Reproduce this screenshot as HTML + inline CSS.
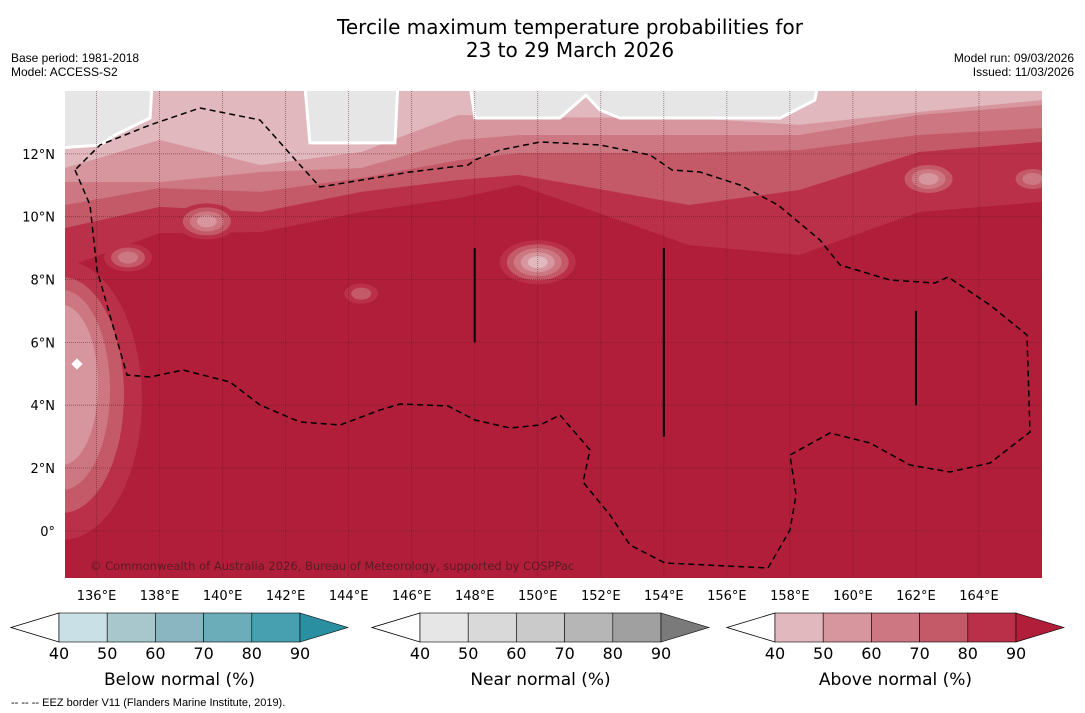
<!DOCTYPE html>
<html><head><meta charset="utf-8"><style>
body{margin:0;background:#fff;width:1085px;height:713px;overflow:hidden;font-family:"Liberation Sans","DejaVu Sans",sans-serif}
svg{position:absolute;left:0;top:0}
</style></head><body>
<svg width="1085" height="713" viewBox="0 0 1085 713">
<text x="570" y="34" font-size="20" text-anchor="middle" fill="#000" font-family="DejaVu Sans, sans-serif">Tercile maximum temperature probabilities for</text>
<text x="570" y="57" font-size="20" text-anchor="middle" fill="#000" font-family="DejaVu Sans, sans-serif">23 to 29 March 2026</text>
<text x="11" y="62" font-size="12">Base period: 1981-2018</text>
<text x="11" y="76" font-size="12">Model: ACCESS-S2</text>
<text x="1074" y="62" font-size="12" text-anchor="end">Model run: 09/03/2026</text>
<text x="1074" y="76" font-size="12" text-anchor="end">Issued: 11/03/2026</text>
<defs><clipPath id="mc"><rect x="65" y="91" width="977" height="487"/></clipPath></defs>
<g id="map" clip-path="url(#mc)"></g>
<g id="axes"></g>
<g id="bars"></g>
<text x="11" y="706" font-size="11">--  --  -- EEZ border V11 (Flanders Marine Institute, 2019).</text>
</svg>
<script>
const NS="http://www.w3.org/2000/svg";
const lonMin=135, lonMax=166, latMin=-1.5, latMax=14;
const X=lon=>65+(lon-lonMin)/(lonMax-lonMin)*977;
const Y=lat=>91+(latMax-lat)/(latMax-latMin)*487;
const lonTicks=[136,138,140,142,144,146,148,150,152,154,156,158,160,162,164];
const latTicks=[0,2,4,6,8,10,12];
const levelColors=["#e0b8bd","#d7959d","#cc7781","#c45a68","#ba3048","#b01e3a"];
const bandLon=[135,138,141.2,144.4,147.5,149.4,154.8,158.3,162.1,166];
const band40=[11.55,12.44,11.64,12.06,13.24,13.17,13.14,12.92,13.33,13.71];
const band50=[11.10,11.10,11.42,11.55,12.44,12.60,12.60,12.60,13.24,13.55];
const band60=[10.37,10.91,10.79,11.23,11.80,12.03,12.03,12.12,12.60,12.82];
const band70=[9.64,10.31,10.15,10.79,11.17,11.33,10.37,10.85,12.06,12.38];
const band80=[8.37,9.48,9.51,10.15,10.59,11.01,9.10,8.78,10.15,10.47];
const greyLon=[134.84,136.11,136.59,137.70,137.76,142.61,142.77,145.47,145.56,147.85,148.01,150.70,151.53,151.97,152.61,155.15,157.69,158.79,158.89,166.25];
const greyLat=[12.19,12.28,12.60,13.14,14.19,14.19,12.35,12.35,14.19,14.19,13.14,13.14,13.87,13.40,13.14,13.14,13.14,13.71,14.19,14.19];
const spotLon=[150.0,139.5,137.0,144.4,162.4,165.7];
const spotLat=[8.55,9.85,8.7,7.55,11.2,11.2];
const spotLvl=[0,1,2,3,1,2];
const eezX=[75,90,97,127,150,183,230,260,300,340,380,400,448,475,510,540,560,590,583,610,630,665,768,790,796,790,830,870,910,950,990,1030,1027,990,948,935,890,840,820,778,740,700,672,650,600,540,500,475,468,410,320,300,260,200,150,100,75];
const eezY=[170,205,270,375,377,370,382,405,422,425,410,404,406,420,428,425,415,450,482,515,545,563,568,530,495,455,433,443,465,472,463,432,335,305,277,283,280,265,240,205,185,172,170,155,145,142,150,160,165,172,187,165,120,108,125,145,170];
const map=document.getElementById('map');
function add(p,tag,at){const e=document.createElementNS(NS,tag);for(const k in at)e.setAttribute(k,at[k]);p.appendChild(e);return e;}
const bg=add(map,'rect',{x:65,y:91,width:977,height:487,fill:levelColors[5]});


[[4,80,140,400],[3,62,118,395],[2,48,100,390],[1,36,80,385]].forEach(([l,rx,ry,cy])=>{
 const e=add(map,'ellipse',{cx:62,cy:cy,rx:rx,ry:ry,fill:levelColors[l]});
 
 
});
{const d=add(map,'rect',{x:73,y:360,width:8,height:8,fill:'#fff',transform:'rotate(45 77 364)'});
 
 }
const bands=[band80,band70,band60,band50,band40];
bands.forEach((b,i)=>{
 let d='M'+X(lonMin-1)+','+Y(latMax+1);
 bandLon.forEach((lo,j)=>{d+=' L'+X(lo)+','+Y(b[j]);});
 d+=' L'+X(lonMax+1)+','+Y(b[b.length-1])+' L'+X(lonMax+1)+','+Y(latMax+1)+'Z';
 const p=add(map,'path',{d:d,fill:levelColors[4-i]});
 
 
});
{let d='M'+X(lonMin-1)+','+Y(latMax+1);
 greyLon.forEach((lo,j)=>{d+=' L'+X(lo)+','+Y(greyLat[j]);});
 d+=' L'+X(lonMax+1)+','+Y(latMax+1)+'Z';
 const p=add(map,'path',{d:d,fill:'#e6e6e6',stroke:'#fff','stroke-width':3});
 
 }
spotLon.forEach((lo,i)=>{
 for(let l=4;l>=spotLvl[i];l--){
  const s=(l-spotLvl[i]+1);
  const e=add(map,'ellipse',{cx:X(lo),cy:Y(spotLat[i]),rx:7*s+3,ry:4*s+2,fill:levelColors[l]});
  
  
 }
});
lonTicks.forEach(lo=>{const l=add(map,'line',{x1:X(lo),x2:X(lo),y1:91,y2:578,stroke:'#5a1a25','stroke-width':0.8,'stroke-dasharray':'1,1','stroke-opacity':0.6});
 
 });
latTicks.forEach(la=>{const l=add(map,'line',{x1:65,x2:1042,y1:Y(la),y2:Y(la),stroke:'#5a1a25','stroke-width':0.8,'stroke-dasharray':'1,1','stroke-opacity':0.6});
 
 });
[[148,9,6],[154,9,3],[162,7,4]].forEach(([lo,a,b])=>{const l=add(map,'line',{x1:X(lo),x2:X(lo),y1:Y(a),y2:Y(b),stroke:'#000','stroke-width':2});
 
 });
{const pts=eezX.map((x,i)=>x+','+eezY[i]).join(' ');
 const p=add(map,'polyline',{points:pts,fill:'none',stroke:'#000','stroke-width':1.5,'stroke-dasharray':'6,4'});
 
 }
{const t=add(map,'text',{x:90,y:570,'font-size':11.5,fill:'#5a1a25','font-family':'DejaVu Sans, sans-serif'});t.textContent='© Commonwealth of Australia 2026, Bureau of Meteorology, supported by COSPPac';
 
 }
const axes=document.getElementById('axes');
lonTicks.forEach(lo=>{const t=add(axes,'text',{x:X(lo),y:600,'font-size':13,'text-anchor':'middle','font-family':'DejaVu Sans, sans-serif'});t.textContent=lo+'°E';
 
 });
latTicks.forEach(la=>{const t=add(axes,'text',{x:55,y:Y(la)+5,'font-size':13,'text-anchor':'end','font-family':'DejaVu Sans, sans-serif'});t.textContent=la===0?'0°':la+'°N';
 
 });
const barTicks=["40","50","60","70","80","90"];
const belowColors=["#c8e0e6","#a7c7cc","#89b6c0","#6badb9","#47a0b0","#2b8fa2"];
const nearColors=["#e6e6e6","#d9d9d9","#cacaca","#b6b6b6","#a0a0a0","#7a7a7a"];
const barTitles=["Below normal (%)","Near normal (%)","Above normal (%)"];
const barX=[59,420,775];
const bars=document.getElementById('bars');
[belowColors,nearColors,levelColors].forEach((cols,bi)=>{
 const x0=barX[bi],w=48.2,y0=613,h=29;
 const g=add(bars,'g',{});
 
 
 add(g,'polygon',{points:`${x0},${y0} ${x0-48},${y0+h/2} ${x0},${y0+h}`,fill:'#fff',stroke:'#000','stroke-width':0.8});
 for(let i=0;i<5;i++){add(g,'rect',{x:x0+i*w,y:y0,width:w,height:h,fill:cols[i],stroke:'#000','stroke-width':0.6});}
 add(g,'polygon',{points:`${x0+5*w},${y0} ${x0+5*w+48},${y0+h/2} ${x0+5*w},${y0+h}`,fill:cols[5],stroke:'#000','stroke-width':0.6});
 barTicks.forEach((t,i)=>{const e=add(g,'text',{x:x0+i*w,y:659,'font-size':16,'text-anchor':'middle','font-family':'DejaVu Sans, sans-serif'});e.textContent=t;
  
  });
 const tt=add(g,'text',{x:x0+2.5*w,y:685,'font-size':17,'text-anchor':'middle','font-family':'DejaVu Sans, sans-serif'});tt.textContent=barTitles[bi];
 
 
});
</script>
</body></html>
